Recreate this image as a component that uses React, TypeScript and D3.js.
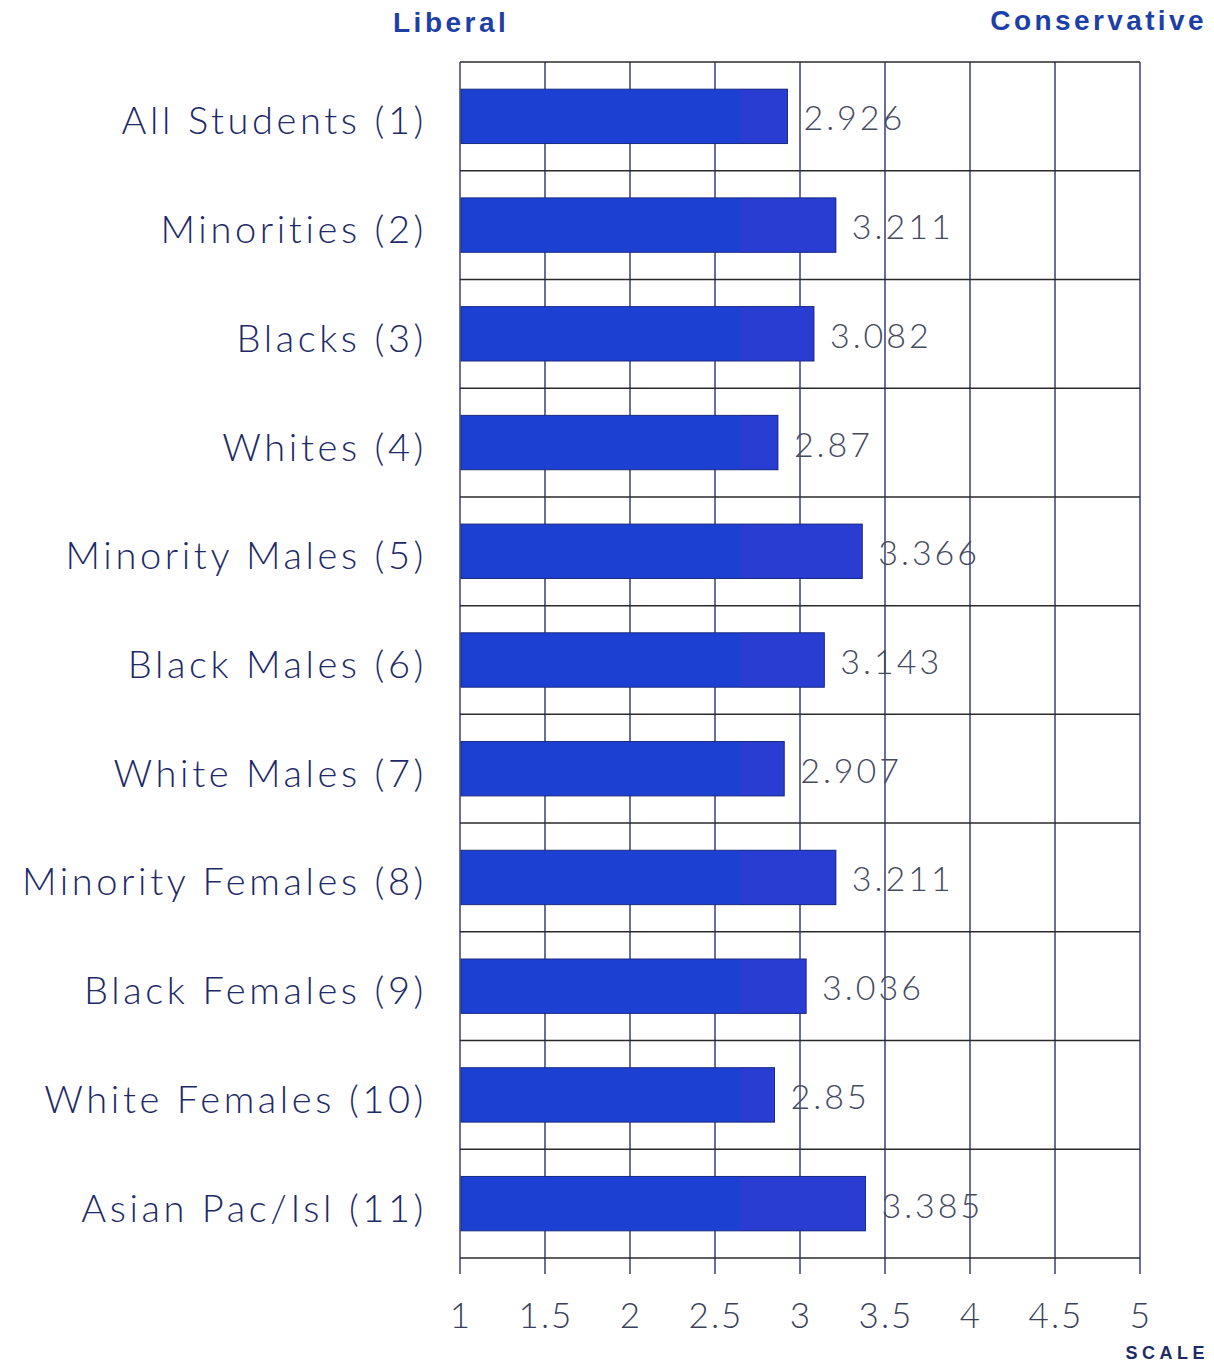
import React from "react";
import * as d3 from "d3";

// Mean political-orientation score per student group (1 = liberal, 5 = conservative)
const groups = [
  "All Students (1)",
  "Minorities (2)",
  "Blacks (3)",
  "Whites (4)",
  "Minority Males (5)",
  "Black Males (6)",
  "White Males (7)",
  "Minority Females (8)",
  "Black Females (9)",
  "White Females (10)",
  "Asian Pac/Isl (11)",
];
const scores = [2.926, 3.211, 3.082, 2.87, 3.366, 3.143, 2.907, 3.211, 3.036, 2.85, 3.385];
const scoreLabels = ["2.926", "3.211", "3.082", "2.87", "3.366", "3.143", "2.907", "3.211", "3.036", "2.85", "3.385"];
const ticks = [1, 1.5, 2, 2.5, 3, 3.5, 4, 4.5, 5];
const tickLabels = ["1", "1.5", "2", "2.5", "3", "3.5", "4", "4.5", "5"];
const shadeFrom = 2.65;

const W = 1214;
const H = 1364;
const left = 460;
const right = 1140;
const top = 62;
const bottom = 1258;

const FONT = "Lato, 'Noto Sans', sans-serif";
const HEAD_FONT = "'Liberation Sans', Arial, sans-serif";

export default function App() {
  const x = d3.scaleLinear().domain([1, 5]).range([left, right]);
  const y = d3
    .scaleBand<string>()
    .domain(groups)
    .range([top, bottom])
    .paddingInner(0.5)
    .paddingOuter(0.25);
  const step = y.step();
  const bw = y.bandwidth();
  const rowLines = groups.map((g) => (y(g) as number) - step * 0.25).concat([bottom]);

  return (
    <svg
      width={W}
      height={H}
      viewBox={`0 0 ${W} ${H}`}
      style={{ position: "absolute", left: 0, top: 0, background: "#fff" }}
    >
      <rect x={0} y={0} width={W} height={H} fill="#fff" />

      {/* header labels */}
      <text x={393} y={32} fontFamily={HEAD_FONT} fontWeight={700} fontSize={28}
        letterSpacing={3.5} fill="#1d3fa6">Liberal</text>
      <text x={1207} y={30} textAnchor="end" fontFamily={HEAD_FONT} fontWeight={700} fontSize={28}
        letterSpacing={3.4} fill="#1d3fa6">Conservative</text>

      {/* vertical grid and ticks */}
      {ticks.map((t) => (
        <line key={t} x1={x(t)} x2={x(t)} y1={top} y2={bottom + 16} stroke="#1a2266" strokeWidth={1.3} />
      ))}

      {/* row separators */}
      {rowLines.map((yy, i) => (
        <line key={i} x1={left} x2={right} y1={yy} y2={yy} stroke="#2a2a2a" strokeWidth={1.5} />
      ))}

      {/* bars */}
      {groups.map((g, i) => {
        const y0 = y(g) as number;
        const x0 = x(1) + 1;
        return (
          <g key={g}>
            <rect x={x0} y={y0} width={x(scores[i]) - x0} height={bw} fill="#1c40d2" />
            <rect x={x(shadeFrom)} y={y0} width={Math.max(0, x(scores[i]) - x(shadeFrom))}
              height={bw} fill="#2a3dd2" />
            <rect x={x0} y={y0} width={x(scores[i]) - x0} height={bw} fill="none"
              stroke="#1a2a80" strokeWidth={1} />
          </g>
        );
      })}

      {/* value labels */}
      {groups.map((g, i) => (
        <text key={g} x={x(scores[i]) + 16} y={(y(g) as number) + bw / 2 + 14} fontFamily={FONT}
          fontWeight={300} fontSize={34} letterSpacing={3} fill="#454a60">
          {scoreLabels[i]}
        </text>
      ))}

      {/* category labels */}
      {groups.map((g) => (
        <text key={g} x={427} y={(y(g) as number) + bw / 2 + 18} textAnchor="end" fontFamily={FONT}
          fontWeight={300} fontSize={38} letterSpacing={3.6} fill="#1e2a66">
          {g}
        </text>
      ))}

      {/* tick labels */}
      {ticks.map((t, i) => (
        <text key={t} x={x(t) + 1} y={1328} textAnchor="middle" fontFamily={FONT} fontWeight={300}
          fontSize={35} letterSpacing={2} fill="#3a3f5a">
          {tickLabels[i]}
        </text>
      ))}

      <text x={1209} y={1359} textAnchor="end" fontFamily={HEAD_FONT} fontWeight={700} fontSize={18}
        letterSpacing={4.5} fill="#1e2a66">SCALE</text>
    </svg>
  );
}
